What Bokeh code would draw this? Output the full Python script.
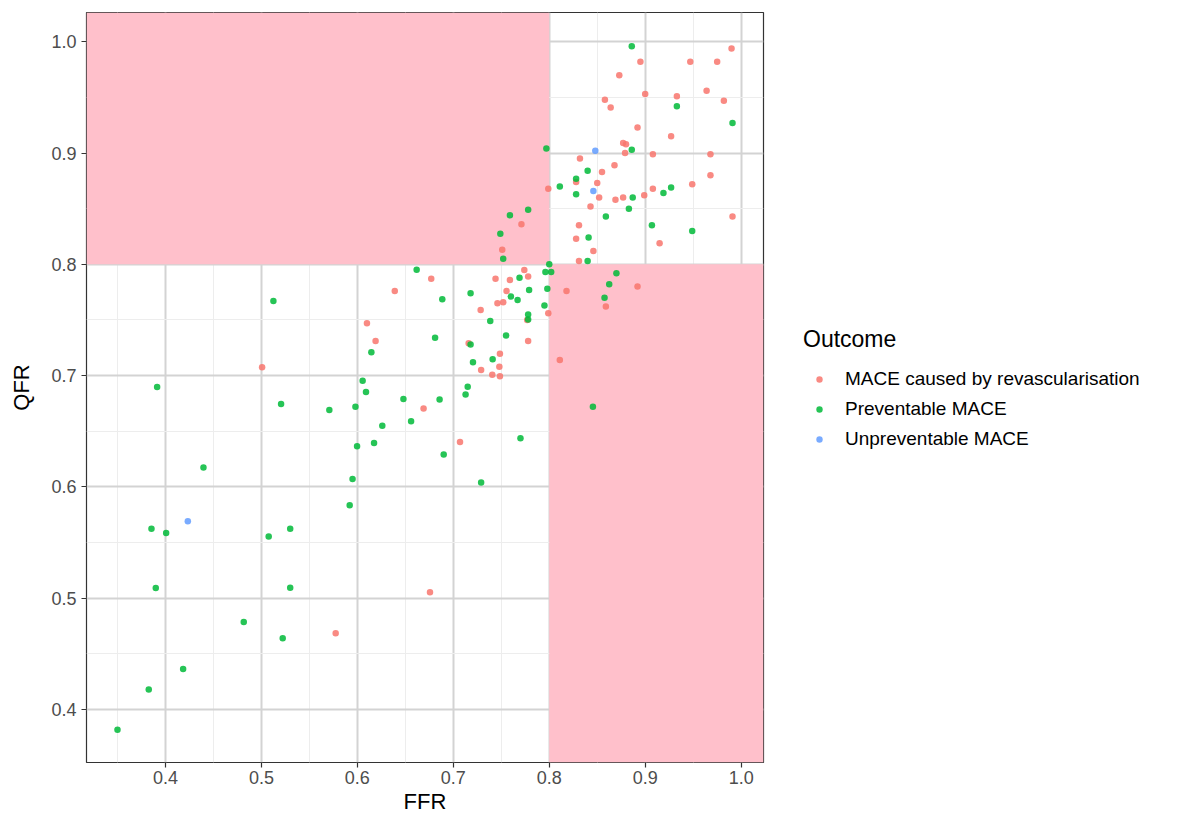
from bokeh.plotting import figure
from bokeh.layouts import row
from bokeh.models import (ColumnDataSource, BoxAnnotation, Legend, LegendItem,
                          FixedTicker, Range1d, PrintfTickFormatter)
from bokeh.embed import file_html
from bokeh.resources import INLINE

# ---- data ----
THRESHOLD = 0.8

revasc_ffr = [0.895, 0.947, 0.975, 0.990, 0.873, 0.900, 0.933, 0.964, 0.982, 0.858,
              0.864, 0.892, 0.927, 0.877, 0.880, 0.879, 0.908, 0.968, 0.832, 0.868,
              0.855, 0.968, 0.828, 0.850, 0.949, 0.799, 0.908, 0.852, 0.869, 0.877,
              0.899, 0.843, 0.991, 0.831, 0.828, 0.915, 0.846, 0.831, 0.892, 0.818,
              0.859, 0.799, 0.811,
              0.771, 0.751, 0.774, 0.778, 0.744, 0.759, 0.7555, 0.746, 0.752, 0.7285, 0.777,
              0.610, 0.619, 0.778, 0.716, 0.7486, 0.729, 0.7406, 0.748, 0.7486, 0.669, 0.707,
              0.677, 0.639, 0.5007, 0.6757, 0.5774]
revasc_qfr = [0.982, 0.982, 0.982, 0.994, 0.970, 0.953, 0.951, 0.956, 0.947, 0.948,
              0.941, 0.923, 0.915, 0.909, 0.908, 0.900, 0.899, 0.899, 0.895, 0.889,
              0.883, 0.880, 0.874, 0.873, 0.872, 0.868, 0.868, 0.860, 0.858, 0.860,
              0.862, 0.852, 0.843, 0.835, 0.823, 0.819, 0.812, 0.803, 0.780, 0.776,
              0.762, 0.756, 0.714,
              0.836, 0.813, 0.795, 0.789, 0.787, 0.786, 0.776, 0.765, 0.766, 0.759, 0.750,
              0.747, 0.731, 0.731, 0.729, 0.7197, 0.705, 0.7008, 0.708, 0.6993, 0.6705, 0.6404,
              0.787, 0.776, 0.7074, 0.5053, 0.4684]

prev_ffr = [0.886, 0.933, 0.991, 0.797, 0.886, 0.840, 0.828, 0.811, 0.927, 0.919,
            0.828, 0.887, 0.883, 0.859, 0.907, 0.949, 0.841, 0.840, 0.800, 0.796,
            0.802, 0.870, 0.8625, 0.798, 0.8576, 0.795, 0.8455,
            0.778, 0.759, 0.749, 0.752, 0.769, 0.718, 0.779, 0.760, 0.767, 0.778, 0.778, 0.7385,
            0.681, 0.755, 0.718, 0.6146, 0.7205, 0.741, 0.6055, 0.609, 0.715, 0.7128,
            0.5708, 0.598, 0.648, 0.6857, 0.656, 0.626, 0.5997, 0.6174, 0.770, 0.690,
            0.595, 0.729,
            0.6618, 0.6885,
            0.5125, 0.3913, 0.5205, 0.4396, 0.3854, 0.4007, 0.5076, 0.530,
            0.3899, 0.530, 0.4816, 0.5222, 0.4184, 0.3826, 0.350, 0.592]
prev_qfr = [0.996, 0.942, 0.927, 0.904, 0.903, 0.884, 0.877, 0.870, 0.869, 0.864,
            0.863, 0.860, 0.850, 0.843, 0.835, 0.830, 0.824, 0.803, 0.800, 0.793,
            0.793, 0.792, 0.782, 0.778, 0.770, 0.763, 0.672,
            0.849, 0.844, 0.8275, 0.805, 0.788, 0.774, 0.777, 0.771, 0.768, 0.755, 0.7505, 0.749,
            0.734, 0.736, 0.728, 0.721, 0.712, 0.7146, 0.6954, 0.6853, 0.690, 0.6831,
            0.669, 0.672, 0.679, 0.6786, 0.659, 0.655, 0.6364, 0.6394, 0.6436, 0.629,
            0.607, 0.604,
            0.7951, 0.7685,
            0.767, 0.6897, 0.6745, 0.6175, 0.5624, 0.5586, 0.5555, 0.5624,
            0.5092, 0.5094, 0.4786, 0.4639, 0.4364, 0.418, 0.3818, 0.5834]

unprev_ffr = [0.848, 0.846, 0.4233]
unprev_qfr = [0.902, 0.866, 0.569]

groups = ["MACE caused by revascularisation", "Preventable MACE", "Unpreventable MACE"]
colors = ["#F8766D", "#00BA38", "#619CFF"]
major_ticks = [0.4, 0.5, 0.6, 0.7, 0.8, 0.9, 1.0]
minor_ticks = [0.35, 0.45, 0.55, 0.65, 0.75, 0.85, 0.95]
x_lim = (0.3177, 1.0233)
y_lim = (0.3523, 1.0263)

FONT = "Liberation Sans"
POINT_SIZE = 6.5
POINT_ALPHA = 0.85

p = figure(width=765, height=825, output_backend="svg", toolbar_location=None,
           x_range=Range1d(*x_lim), y_range=Range1d(*y_lim),
           min_border_left=86, min_border_top=12, min_border_bottom=63, min_border_right=2,
           x_axis_label="FFR", y_axis_label="QFR")
p.background_fill_color = "white"
p.border_fill_color = "white"
p.outline_line_color = "#333333"
p.outline_line_width = 1.2

for ax in (p.xaxis[0], p.yaxis[0]):
    ax.ticker = FixedTicker(ticks=major_ticks)
    ax.formatter = PrintfTickFormatter(format="%.1f")
    ax.axis_line_color = None
    ax.major_tick_line_color = "#333333"
    ax.major_tick_line_width = 1.2
    ax.major_tick_out = 5
    ax.major_tick_in = 0
    ax.minor_tick_line_color = None
    ax.major_label_text_font = FONT
    ax.major_label_text_font_size = "18px"
    ax.major_label_text_color = "#4D4D4D"
    ax.axis_label_text_font = FONT
    ax.axis_label_text_font_size = "22px"
    ax.axis_label_text_font_style = "normal"
    ax.axis_label_text_color = "black"
p.xaxis[0].major_label_standoff = 3
p.xaxis[0].axis_label_standoff = 2
p.yaxis[0].major_label_standoff = 5
p.yaxis[0].axis_label_standoff = 14

for g in (p.xgrid[0], p.ygrid[0]):
    g.ticker = FixedTicker(ticks=major_ticks, minor_ticks=minor_ticks)
    g.grid_line_color = "#D3D3D3"
    g.grid_line_width = 2
    g.minor_grid_line_color = "#EDEDED"
    g.minor_grid_line_width = 1

# pink regions: FFR <= 0.8 & QFR >= 0.8, and FFR >= 0.8 & QFR <= 0.8
box1 = BoxAnnotation(right=THRESHOLD, bottom=THRESHOLD, fill_color="pink", fill_alpha=1.0,
                     line_alpha=0, level="underlay")
box2 = BoxAnnotation(left=THRESHOLD, top=THRESHOLD, fill_color="pink", fill_alpha=1.0,
                     line_alpha=0, level="underlay")
p.add_layout(box1)
p.add_layout(box2)

series = list(zip(groups, [revasc_ffr, prev_ffr, unprev_ffr],
                  [revasc_qfr, prev_qfr, unprev_qfr], colors))
for name, xs, ys, c in series:
    src = ColumnDataSource(dict(x=xs, y=ys))
    p.scatter("x", "y", source=src, size=POINT_SIZE, fill_color=c, fill_alpha=POINT_ALPHA,
              line_color=None)

# ---- legend panel (separate figure to the right; its view range excludes the data,
#      the renderers exist only to supply the legend glyphs) ----
lf = figure(width=418, height=825, output_backend="svg", toolbar_location=None,
            x_range=Range1d(-3, -2), y_range=Range1d(-3, -2),
            min_border_left=0, min_border_right=0, min_border_top=0, min_border_bottom=0)
lf.axis.visible = False
lf.grid.visible = False
lf.outline_line_color = None
lf.background_fill_color = "white"
lf.border_fill_color = "white"

items = []
for name, xs, ys, c in series:
    src = ColumnDataSource(dict(x=xs, y=ys))
    r = lf.scatter("x", "y", source=src, size=POINT_SIZE, fill_color=c,
                   fill_alpha=POINT_ALPHA, line_color=None)
    items.append(LegendItem(label=name, renderers=[r]))

legend = Legend(items=items, title="Outcome", location=(28, 300))
legend.title_text_font = FONT
legend.title_text_font_size = "23px"
legend.title_text_font_style = "normal"
legend.title_text_color = "black"
legend.title_standoff = 13
legend.label_text_font = FONT
legend.label_text_font_size = "19px"
legend.label_text_color = "black"
legend.label_height = 26
legend.glyph_height = 16
legend.glyph_width = 32
legend.label_standoff = 10
legend.spacing = 4
legend.padding = 10
legend.margin = 0
legend.border_line_alpha = 0
legend.background_fill_alpha = 0
lf.add_layout(legend, "center")

layout = row(p, lf)
open("out.html", "w").write(file_html(layout, INLINE))
